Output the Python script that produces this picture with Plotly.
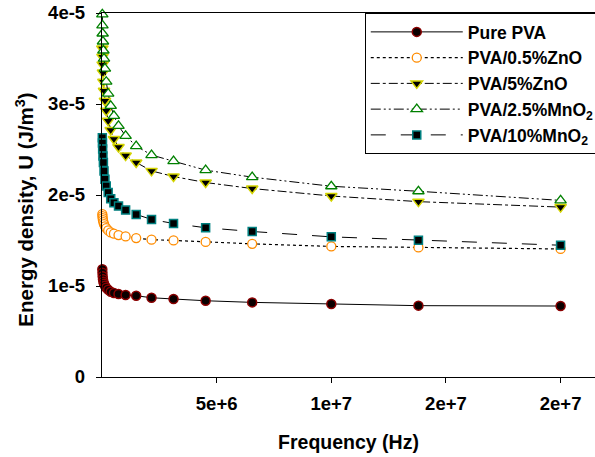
import plotly.graph_objects as go

# Frequency (Hz)
freq_hz = [1.4e4, 2.0e4, 2.9e4, 4.2e4, 6.1e4, 8.8e4, 1.28e5, 1.85e5, 2.7e5, 3.8e5,
           5.2e5, 7.2e5, 1.03e6, 1.49e6, 2.16e6, 3.12e6, 4.52e6, 6.55e6, 1.0e7, 1.38e7, 2.0e7]

# Energy density U (J/m^3)
pure_pva = [1.185e-5, 1.146e-5, 1.108e-5, 1.075e-5, 1.047e-5, 1.025e-5, 1.003e-5, 0.981e-5,
            0.959e-5, 0.937e-5, 0.923e-5, 0.912e-5, 0.902e-5, 0.893e-5, 0.871e-5, 0.857e-5,
            0.838e-5, 0.820e-5, 0.802e-5, 0.784e-5, 0.780e-5]
pva_05zno = [1.789e-5, 1.767e-5, 1.745e-5, 1.723e-5, 1.701e-5, 1.679e-5, 1.655e-5, 1.637e-5,
             1.611e-5, 1.589e-5, 1.575e-5, 1.560e-5, 1.545e-5, 1.527e-5, 1.509e-5, 1.501e-5,
             1.484e-5, 1.463e-5, 1.435e-5, 1.424e-5, 1.407e-5]
pva_5zno = [3.610e-5, 3.520e-5, 3.433e-5, 3.345e-5, 3.245e-5, 3.146e-5, 3.035e-5, 2.925e-5,
            2.815e-5, 2.715e-5, 2.615e-5, 2.527e-5, 2.433e-5, 2.358e-5, 2.265e-5, 2.203e-5,
            2.137e-5, 2.071e-5, 1.989e-5, 1.927e-5, 1.867e-5]
pva_25mno2 = [3.985e-5, 3.864e-5, 3.775e-5, 3.687e-5, 3.588e-5, 3.499e-5, 3.389e-5, 3.245e-5,
              3.113e-5, 2.980e-5, 2.870e-5, 2.759e-5, 2.649e-5, 2.538e-5, 2.439e-5, 2.373e-5,
              2.273e-5, 2.196e-5, 2.096e-5, 2.041e-5, 1.941e-5]
pva_10mno2 = [2.630e-5, 2.571e-5, 2.505e-5, 2.428e-5, 2.358e-5, 2.265e-5, 2.174e-5, 2.099e-5,
              2.027e-5, 1.960e-5, 1.916e-5, 1.878e-5, 1.834e-5, 1.787e-5, 1.731e-5, 1.687e-5,
              1.640e-5, 1.599e-5, 1.540e-5, 1.503e-5, 1.448e-5]

series_names = ["Pure PVA", "PVA/0.5%ZnO", "PVA/5%ZnO",
                "PVA/2.5%MnO<sub>2</sub>", "PVA/10%MnO<sub>2</sub>"]

x_tick_vals = [5e6, 1e7, 1.5e7, 2e7]
x_tick_labels = ["5e+6", "1e+7", "2e+7", "2e+7"]
y_tick_vals = [0, 1e-5, 2e-5, 3e-5, 4e-5]
y_tick_labels = ["0", "1e-5", "2e-5", "3e-5", "4e-5"]

x_title = "Frequency (Hz)"
y_title = "Energy density, U (J/m<sup>3</sup>)"

FONT = "Liberation Sans, Arial, sans-serif"

styles = [
    dict(line=dict(color="black", width=1, dash="solid"),
         marker=dict(symbol="circle", size=9, color="#0a0000", line=dict(color="#8B0000", width=1.5))),
    dict(line=dict(color="black", width=1.2, dash="dot"),
         marker=dict(symbol="circle", size=9, color="white", line=dict(color="#FF8C00", width=1.3))),
    dict(line=dict(color="black", width=1, dash="dashdot"),
         marker=dict(symbol="triangle-down", size=10, color="black", line=dict(color="#D4D400", width=1.5))),
    dict(line=dict(color="black", width=1, dash="10px,3px,2px,3px,2px,3px"),
         marker=dict(symbol="triangle-up", size=10, color="white", line=dict(color="#008000", width=1.3))),
    dict(line=dict(color="black", width=1, dash="longdash"),
         marker=dict(symbol="square", size=8, color="black", line=dict(color="#008080", width=1.5))),
]

data = [pure_pva, pva_05zno, pva_5zno, pva_25mno2, pva_10mno2]

fig = go.Figure()
for name, ys, st in zip(series_names, data, styles):
    fig.add_trace(go.Scatter(x=freq_hz, y=ys, name=name, mode="lines+markers",
                             line=st["line"], marker=st["marker"], cliponaxis=False))

fig.update_layout(
    width=595, height=457,
    margin=dict(l=102, r=0, t=13, b=80, autoexpand=False),
    paper_bgcolor="white", plot_bgcolor="white",
    font=dict(family=FONT, color="black", size=16),
    showlegend=True,
    legend=dict(
        x=0.533, y=1, xanchor="left", yanchor="top",
        bgcolor="white", bordercolor="black", borderwidth=1,
        font=dict(family=FONT, size=17.5, weight="bold"),
        itemwidth=92, tracegroupgap=0,
    ),
    xaxis=dict(
        range=[0, 2.15e7], tickmode="array", tickvals=x_tick_vals, ticktext=x_tick_labels,
        ticks="outside", ticklen=5, tickwidth=1, tickcolor="black",
        showline=True, linecolor="black", linewidth=1.3, mirror=True,
        showgrid=False, zeroline=False, ticklabelstandoff=5,
        tickfont=dict(family=FONT, size=18.5, weight="bold"),
        title=dict(text=x_title, font=dict(family=FONT, size=19.5, weight="bold"), standoff=22),
    ),
    yaxis=dict(
        range=[0, 4e-5], tickmode="array", tickvals=y_tick_vals, ticktext=y_tick_labels,
        ticks="outside", ticklen=5, tickwidth=1, tickcolor="black",
        showline=True, linecolor="black", linewidth=1.3, mirror=False,
        showgrid=False, zeroline=False, ticklabelstandoff=7,
        tickfont=dict(family=FONT, size=18.5, weight="bold"),
    ),
    annotations=[dict(
        text=y_title, textangle=-90, xref="paper", yref="paper",
        x=-0.158, y=0.46, xanchor="center", yanchor="middle", showarrow=False,
        font=dict(family=FONT, size=20.5, weight="bold"),
    )],
)

fig.write_html("out.html")
